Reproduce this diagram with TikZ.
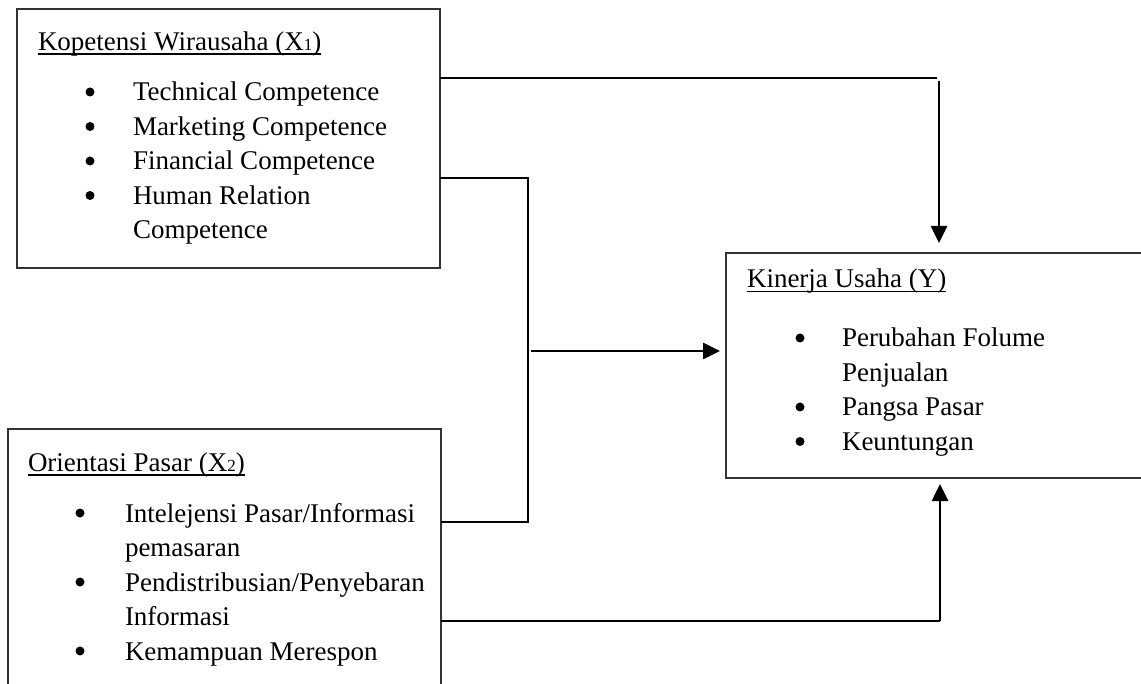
\documentclass[tikz,border=0pt]{standalone}
\usepackage{fontspec}
\setmainfont{Liberation Serif}
\usetikzlibrary{arrows.meta}
\begin{document}
\begin{tikzpicture}[x=1pt,y=-1pt,
  box/.style={draw=black!80, line width=1.1pt, anchor=north west, inner sep=0pt, outer sep=0pt},
  txt/.style={anchor=base west, inner sep=0pt, outer sep=0pt, font=\fontsize{27}{34.5}\selectfont},
  bul/.style={circle, fill=black, inner sep=0pt, minimum size=9pt},
  ul/.style={line width=1.3pt, black},
  conn/.style={line width=1.1pt, black},
  arr/.style={line width=2.6pt, black, -{Triangle[length=17pt,width=16pt]}}]
\clip (0,0) rectangle (1141,684);
\fill[white] (0,0) rectangle (1141,684);

% boxes
\node[box, minimum width=423pt, minimum height=259pt] (box1) at (17,9) {};
\node[box, minimum width=433pt, minimum height=300pt] (box2) at (8,429) {};
\node[box, minimum width=450pt, minimum height=225pt] (box3) at (726,253) {};

% box 1 text
\node[txt] (t1) at (38,50.5) {Kopetensi Wirausaha (X{\fontsize{17}{17}\selectfont 1})};
\draw[ul] ([yshift=-3.5pt]t1.base west) -- ([yshift=-3.5pt]t1.base east);
\node[bul] (b11) at (90,92) {};
\node[txt] (i11) at (133,101) {Technical Competence};
\node[bul] (b12) at (90,126.5) {};
\node[txt] (i12) at (133,135.5) {Marketing Competence};
\node[bul] (b13) at (90,161) {};
\node[txt] (i13) at (133,170) {Financial Competence};
\node[bul] (b14) at (90,195.5) {};
\node[txt] (i14) at (133,204.5) {Human Relation};
\node[txt] (i14b) at (133,239) {Competence};

% box 2 text
\node[txt] (t2) at (28,471.5) {Orientasi Pasar (X{\fontsize{17}{17}\selectfont 2})};
\draw[ul] ([yshift=-3.5pt]t2.base west) -- ([yshift=-3.5pt]t2.base east);
\node[bul] (b21) at (80,513) {};
\node[txt] (i21) at (125,522) {Intelejensi Pasar/Informasi};
\node[txt] (i21b) at (125,556.5) {pemasaran};
\node[bul] (b22) at (80,582) {};
\node[txt] (i22) at (125,591) {Pendistribusian/Penyebaran};
\node[txt] (i22b) at (125,625.5) {Informasi};
\node[bul] (b23) at (80,651) {};
\node[txt] (i23) at (125,660) {Kemampuan Merespon};

% box 3 text
\node[txt] (t3) at (747,288) {Kinerja Usaha (Y)};
\draw[ul] ([yshift=-3.5pt]t3.base west) -- ([yshift=-3.5pt]t3.base east);
\node[bul] (b31) at (800,338) {};
\node[txt] (i31) at (842,347) {Perubahan Folume};
\node[txt] (i31b) at (842,381.5) {Penjualan};
\node[bul] (b32) at (800,407) {};
\node[txt] (i32) at (842,416) {Pangsa Pasar};
\node[bul] (b33) at (800,441.5) {};
\node[txt] (i33) at (842,450.5) {Keuntungan};

% connectors
\coordinate (j1) at (937,78);
\coordinate (j1b) at (939,81);
\draw[conn] (box1.east |- j1) -- (j1);
\draw[arr, shorten >=10pt] (j1b) -- (box3.north -| j1b);

\coordinate (j2) at (528,178);
\coordinate (j3) at (528,522);
\draw[conn] (box1.east |- j2) -- (j2) -- (j3) -- (box2.east |- j3);

\coordinate (j4) at (531,351);
\draw[arr, shorten >=6pt] (j4) -- (box3.west |- j4);

\coordinate (j5) at (940,621);
\draw[conn] (box2.east |- j5) -- (j5);
\draw[arr, shorten >=6pt] (j5) -- (box3.south -| j5);
\end{tikzpicture}
\end{document}
